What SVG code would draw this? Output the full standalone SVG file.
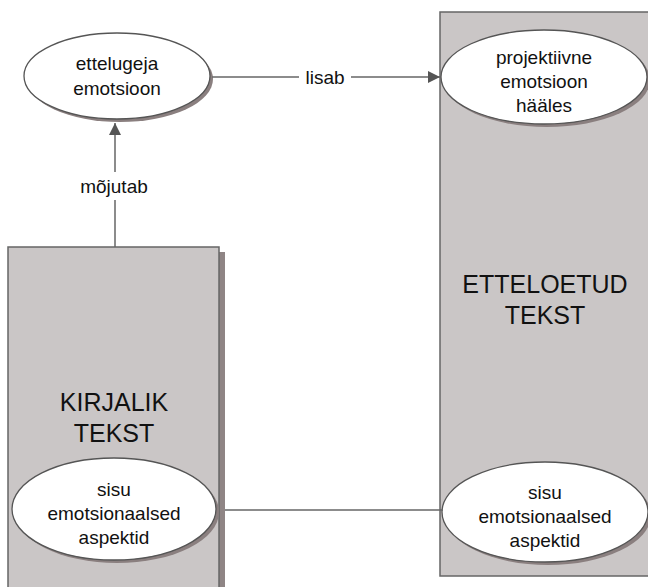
<svg xmlns="http://www.w3.org/2000/svg" width="648" height="587" viewBox="0 0 648 587">
<defs>
<style>
.box{fill:#cac6c6;stroke:#666;stroke-width:1.5}
.bshadow{fill:#8f8585}
.ell{fill:#fff;stroke:#555;stroke-width:1.3}
.eshadow{fill:#8a7f7f}
.edge{stroke:#666;stroke-width:1.5;fill:none}
.t{font-family:"Liberation Sans",Arial,sans-serif;fill:#111;text-anchor:middle}
.s{font-size:19px}
.b{font-size:25px}
.lbl{font-family:"Liberation Sans",Arial,sans-serif;font-size:19px;fill:#111;text-anchor:middle}
</style>
<marker id="arr" viewBox="0 0 10 10" refX="10" refY="5" markerWidth="12" markerHeight="12" markerUnits="userSpaceOnUse" orient="auto">
<path d="M0,0 L10,5 L0,10 z" fill="#555"/>
</marker>
</defs>
<rect width="648" height="587" fill="#fff"/>

<g id="etteloetud-tekst">
<rect class="box" x="440" y="12" width="220" height="564"/>
<text class="t b" x="545" y="293">ETTELOETUD</text>
<text class="t b" x="545" y="324">TEKST</text>
</g>

<g id="kirjalik-tekst">
<rect class="bshadow" x="219" y="252" width="6" height="340"/>
<rect class="box" x="8" y="247" width="211" height="350"/>
<text class="t b" x="114" y="411">KIRJALIK</text>
<text class="t b" x="114" y="442">TEKST</text>
</g>

<g id="ettelugeja-emotsioon">
<ellipse class="eshadow" cx="120" cy="79" rx="93" ry="43"/>
<ellipse class="ell" cx="117" cy="76" rx="93" ry="43"/>
<text class="t s" x="117" y="70">ettelugeja</text>
<text class="t s" x="117" y="95">emotsioon</text>
</g>

<g id="projektiivne-emotsioon">
<ellipse class="eshadow" cx="547" cy="80" rx="103" ry="47"/>
<ellipse class="ell" cx="544" cy="77" rx="103" ry="47"/>
<text class="t s" x="544" y="64">projektiivne</text>
<text class="t s" x="544" y="88">emotsioon</text>
<text class="t s" x="544" y="112">hääles</text>
</g>

<g id="sisu-kirjalik">
<ellipse class="eshadow" cx="117" cy="512" rx="102" ry="51"/>
<ellipse class="ell" cx="114" cy="509" rx="102" ry="51"/>
<text class="t s" x="114" y="496">sisu</text>
<text class="t s" x="114" y="520">emotsionaalsed</text>
<text class="t s" x="114" y="544">aspektid</text>
</g>

<g id="sisu-etteloetud">
<ellipse class="eshadow" cx="548" cy="515" rx="103" ry="50"/>
<ellipse class="ell" cx="545" cy="512" rx="103" ry="50"/>
<text class="t s" x="545" y="499">sisu</text>
<text class="t s" x="545" y="523">emotsionaalsed</text>
<text class="t s" x="545" y="547">aspektid</text>
</g>

<g id="connectors">
<line class="edge" x1="115" y1="247" x2="115" y2="123" marker-end="url(#arr)"/>
<rect x="74" y="172" width="82" height="28" fill="#fff"/>
<text class="lbl" x="114" y="193">mõjutab</text>
<line class="edge" x1="212" y1="77" x2="440" y2="77" marker-end="url(#arr)"/>
<rect x="299" y="65" width="52" height="24" fill="#fff"/>
<text class="lbl" x="325" y="84">lisab</text>
<line class="edge" x1="225" y1="510" x2="443" y2="510"/>
</g>
</svg>
